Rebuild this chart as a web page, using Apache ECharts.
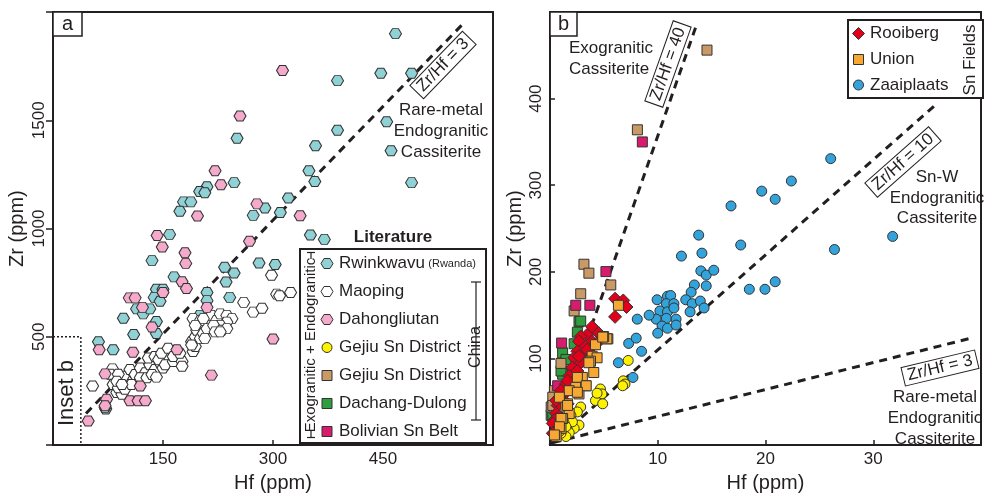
<!DOCTYPE html>
<html>
<head>
<meta charset="utf-8">
<script src="https://cdn.jsdelivr.net/npm/echarts@6/dist/echarts.min.js"></script>
<style>
  html, body { margin: 0; padding: 0; background: #fff; }
  #chart { width: 984px; height: 498px; }
</style>
</head>
<body>
<div id="chart"></div>
<script>
// ---- data: [Hf, Zr] in ppm ----
// panel a (literature, full range)
const rwinkwavu = [[467,1900],[447,1717],[489,1717],[388,1683],[455,1493],[388,1454],[461,1359],[358,1382],[251,1417],[349,1267],[357,1217],[489,1212],[247,1212],[210,1193],[200,1171],[207,1165],[178,1123],[188,1123],[173,1080],[321,1141],[289,1095],[273,1061],[310,1074],[159,973],[135,852],[351,970],[370,950],[281,841],[303,834],[234,821],[247,795],[236,753],[165,777],[241,682],[210,705],[210,667],[200,599],[141,720],[150,720],[138,682],[146,664],[114,629],[123,606],[132,629],[96,586],[141,571],[141,515],[110,511],[62,477],[82,440],[72,167]];
const maoping = [[54,273],[81,352],[82,280],[87,243],[94,235],[89,265],[91,295],[98,258],[101,295],[107,280],[96,318],[105,349],[112,326],[119,356],[126,334],[132,371],[139,349],[146,379],[150,356],[119,311],[128,311],[135,326],[141,314],[130,402],[139,409],[144,394],[153,371],[164,386],[148,424],[157,447],[164,409],[176,386],[176,364],[173,424],[191,432],[194,455],[189,477],[194,500],[196,530],[201,493],[205,515],[210,538],[207,493],[191,584],[201,576],[210,584],[216,599],[223,576],[228,606],[237,599],[244,584],[237,568],[228,553],[219,553],[194,553],[221,523],[230,530],[237,538],[260,659],[273,614],[285,632],[305,697],[298,784],[309,690],[324,705],[71,175],[189,462],[205,584],[228,523],[78,327],[89,327],[87,295],[94,280]];
const dahongliutan = [[313,1730],[255,1520],[221,1267],[229,1202],[278,1114],[337,1059],[197,1058],[142,968],[149,915],[180,888],[181,839],[268,941],[176,754],[182,723],[300,490],[150,705],[104,680],[112,680],[122,636],[210,636],[135,545],[63,440],[109,429],[169,440],[71,329],[119,273],[105,205],[116,205],[126,205],[73,212],[71,182],[48,111],[216,323]];

// panel b (inset)
const gejiuCircle = [[7.26,97.7],[6.8,74.2],[6.96,70.5],[6.74,68.5],[4.68,64.8],[4.82,59.1],[4.22,51.5],[4.89,47.7],[4.37,59.9],[2.85,44],[2.54,38.3],[1.94,34.4],[2.69,23.1],[2.24,19.3],[1.63,17.4],[2.08,26.9],[1.32,25],[1.78,14.4],[1.48,9.9],[1.02,13.6],[0.87,15.6],[1.48,21.2]];
const gejiuSquare = [[14.57,456],[8.11,364],[3.15,208.8],[3.61,198.5],[5.64,184.9],[2.85,174.7],[2.24,154.9],[5.37,122.7],[1.02,94.3],[0.41,62.8],[0.26,55.3],[0.11,44],[0.26,45.8]];
const dachang = [[2.69,142.4],[2.54,130.3],[2.24,117],[1.17,106.5],[1.32,85.6],[1.17,81.8],[0.11,34.4],[2.85,143.2],[1.48,98.9],[1.02,85.6],[0.26,32.6]];
const bolivian = [[8.57,350],[5.19,200.3],[2.39,161.4],[3.7,161.4],[1.08,117.8],[0.71,68.5]];
const rooiberg = [[3.91,136.7],[4.52,129.2],[3.45,127.3],[2.85,125.3],[2.69,119.7],[3.91,119.7],[3.31,114],[2.54,108.3],[3.61,108.3],[3.0,100.8],[2.24,100.8],[2.85,95.1],[2.08,89.4],[2.54,85.6],[1.78,79.9],[2.39,76.1],[1.48,70.5],[1.94,66.7],[1.32,59.1],[0.87,55.3],[1.17,49.7],[1.63,47.7],[0.71,45.8],[0.57,36.4],[0.87,32.6],[0.41,28.8],[0.26,25],[0.71,19.3],[6.04,169],[6.8,167],[7.1,159.4],[6.04,148.1],[4.52,119.7],[3.45,110.2],[2.69,102.6],[1.63,74.2],[1.02,62.8],[0.57,51.5],[0.26,13.6]];
const union = [[5.28,122.7],[4.98,125.3],[4.22,115.9],[3.91,102.6],[4.37,100.8],[3.76,96.9],[3.61,95.1],[4.06,83.8],[3.0,78.1],[3.31,68.5],[2.54,78.1],[2.39,66.7],[1.78,62.8],[2.69,59.1],[1.63,47.7],[1.48,44],[1.78,36.4],[1.17,30.7],[1.02,19.3],[0.57,9.9],[6.35,161.4],[0.87,55.3],[4.89,124.7],[3.36,68.5],[2.54,61],[1.63,45.8],[1.02,30.7],[0.87,21.2],[0.41,11.7]];
const zaaiplaats = [[26.05,330.7],[22.4,304.9],[19.65,293.2],[20.9,283.8],[16.8,276.1],[13.8,242.4],[17.7,231],[12.2,218.2],[14.1,221.6],[26.4,225.8],[31.8,240.9],[14.0,201.1],[14.5,196.3],[15.2,201.9],[13.4,184.9],[14.5,183.8],[13.1,176.5],[18.5,179.9],[19.95,179.9],[20.9,188.6],[12.6,167.8],[13.2,163.3],[13.95,166.3],[14.3,158.3],[13.0,153.8],[9.94,167.8],[10.9,171.9],[11.2,172.7],[10.8,163.3],[11.5,163.3],[10.2,154.9],[10.9,153.8],[11.5,158.3],[9.85,145.4],[10.8,146.3],[11.7,145.4],[10.4,137.5],[10.9,134.9],[11.7,138.6],[10.0,129.2],[9.2,150],[8.1,145.4],[7.3,117.4],[8.0,123.5],[8.5,108.3],[6.35,95.1],[7.7,78.1]];

// reference lines (end points as drawn)
const lineA_3 = [[45,146],[559.5,1947]];
const insetBox = [[0,500],[38,500],[38,0]];
const lineB_40 = [[0,0],[13.65,487]];
const lineB_10 = [[0,0],[35.7,392]];
const lineB_3 = [[0.3,3],[39.1,123.5]];

// tick labels
const xTicksA = [150, 300, 450];
const yTicksA = [500, 1000, 1500];
const xTicksB = [10, 20, 30];
const yTicksB = [100, 200, 300, 400];

// ---- styling ----
const INK = '#231f20';
const FONT = '"Liberation Sans", Arial, sans-serif';
const HEX = 'path://M0,5 L3,0 L9,0 L12,5 L9,10 L3,10 Z';
const col = {
  rwinkwavu: '#8fd1d5', maoping: '#ffffff', dahong: '#f5aacb',
  gejiuC: '#fff200', gejiuS: '#c99a66', dachang: '#2f9e3c', bolivian: '#d81b6d',
  rooiberg: '#e3001b', union: '#f7a833', zaai: '#33a3dc'
};

function xAxisCfg(grid, min, max, interval, ticks) {
  return {
    gridIndex: grid, type: 'value', min: min, max: max, interval: interval,
    name: 'Hf (ppm)', nameLocation: 'middle', nameGap: 27,
    nameTextStyle: { fontSize: 20, color: INK, fontFamily: FONT },
    axisLine: { show: true, lineStyle: { color: INK, width: 2 } },
    axisTick: { show: true, inside: true, length: 5, lineStyle: { color: INK, width: 1.5 } },
    axisLabel: { fontSize: 17, color: INK, fontFamily: FONT, margin: 6,
      formatter: v => ticks.includes(v) ? String(v) : '' },
    splitLine: { show: false }
  };
}
function yAxisCfg(grid, min, max, interval, ticks, inside, gap, margin) {
  return {
    gridIndex: grid, type: 'value', min: min, max: max, interval: interval,
    name: 'Zr (ppm)', nameLocation: 'middle', nameGap: gap, nameRotate: 90,
    nameTextStyle: { fontSize: 20, color: INK, fontFamily: FONT },
    axisLine: { show: true, lineStyle: { color: INK, width: 2 } },
    axisTick: { show: true, inside: inside, length: inside ? 5 : 7, lineStyle: { color: INK, width: 1.5 } },
    axisLabel: { fontSize: 17, color: INK, fontFamily: FONT, margin: margin, rotate: 90,
      formatter: v => ticks.includes(v) ? String(v) : '' },
    splitLine: { show: false }
  };
}
function refLine(ax, data, dotted) {
  return {
    type: 'line', xAxisIndex: ax, yAxisIndex: ax, data: data, symbol: 'none', silent: true, z: 1,
    lineStyle: dotted ? { color: INK, width: 1.5, type: [2, 2] } : { color: INK, width: 3, type: [8, 6] }
  };
}
function pts(ax, name, data, symbol, size, color) {
  return {
    type: 'scatter', name: name, xAxisIndex: ax, yAxisIndex: ax, data: data,
    symbol: symbol, symbolSize: size, z: 2,
    itemStyle: { color: color, borderColor: '#333', borderWidth: 1, opacity: 1 }
  };
}

// ---- graphic helpers (legends and notes) ----
function txt(x, y, text, size, opt) {
  return Object.assign({
    type: 'text', x: x, y: y, z: 100,
    style: Object.assign({ text: text, fontSize: size, fontFamily: FONT, fill: INK,
      align: 'center', verticalAlign: 'middle' }, (opt && opt.style) || {})
  }, opt && opt.rotation !== undefined ? { rotation: opt.rotation } : {});
}
function rot(deg) { return deg * Math.PI / 180; }
function boxed(x, y, text, deg) {
  return txt(x, y, text, 17, { rotation: rot(deg),
    style: { backgroundColor: '#fff', borderColor: INK, borderWidth: 1, padding: [1, 4, 0, 4] } });
}
function marker(kind, cx, cy, color) {
  const st = { fill: color, stroke: '#333', lineWidth: 1 };
  if (kind === 'hex') {
    const w = 12, h = 10;
    return { type: 'polygon', z: 100, shape: { points: [[cx - w/2, cy], [cx - w/4, cy - h/2], [cx + w/4, cy - h/2], [cx + w/2, cy], [cx + w/4, cy + h/2], [cx - w/4, cy + h/2]] }, style: st };
  }
  if (kind === 'circle') return { type: 'circle', z: 100, shape: { cx: cx, cy: cy, r: 5 }, style: st };
  if (kind === 'diamond') return { type: 'polygon', z: 100, shape: { points: [[cx - 6, cy], [cx, cy - 6], [cx + 6, cy], [cx, cy + 6]] }, style: st };
  return { type: 'rect', z: 100, shape: { x: cx - 5, y: cy - 5, width: 10, height: 10 }, style: st };
}
function line(x1, y1, x2, y2, w) {
  return { type: 'line', z: 101, shape: { x1: x1, y1: y1, x2: x2, y2: y2 }, style: { stroke: INK, lineWidth: w || 1.2 } };
}
function leftText(x, y, text, size) {
  return txt(x, y, text, size, { style: { align: 'left' } });
}

const graphics = [];
// panel tags
graphics.push({ type: 'rect', z: 100, shape: { x: 53, y: 12, width: 29, height: 24 }, style: { fill: '#fff', stroke: INK, lineWidth: 1.5 } });
graphics.push(txt(67.5, 24, 'a', 20));
graphics.push({ type: 'rect', z: 100, shape: { x: 550, y: 12, width: 27, height: 24 }, style: { fill: '#fff', stroke: INK, lineWidth: 1.5 } });
graphics.push(txt(563.5, 24, 'b', 20));

// panel a notes
graphics.push(boxed(443, 65, 'Zr/Hf = 3', 46));
graphics.push(txt(441, 110, 'Rare-metal', 17));
graphics.push(txt(441, 131, 'Endogranitic', 17));
graphics.push(txt(441, 152, 'Cassiterite', 17));
graphics.push(txt(67, 393, 'Inset b', 22, { rotation: rot(90) }));

// panel a legend
graphics.push(txt(393, 237, 'Literature', 17, { style: { fontWeight: 'bold' } }));
graphics.push({ type: 'rect', z: 99, shape: { x: 300, y: 249, width: 186, height: 194 }, style: { fill: '#fff', stroke: INK, lineWidth: 2 } });
const legA = [
  ['hex', col.rwinkwavu, 'Rwinkwavu'], ['hex', col.maoping, 'Maoping'], ['hex', col.dahong, 'Dahongliutan'],
  ['circle', col.gejiuC, 'Gejiu Sn District'], ['rect', col.gejiuS, 'Gejiu Sn District'],
  ['rect', col.dachang, 'Dachang-Dulong'], ['rect', col.bolivian, 'Bolivian Sn Belt']
];
const legAY = [263.5, 291.5, 319.5, 347.5, 375.5, 403.5, 431.5];
legA.forEach((r, i) => {
  graphics.push(marker(r[0], 327, legAY[i], r[1]));
  if (i === 0) {
    graphics.push({ type: 'text', x: 339, y: legAY[i], z: 100, style: {
      text: '{a|Rwinkwavu} {b|(Rwanda)}', fontFamily: FONT, fill: INK, align: 'left', verticalAlign: 'middle',
      rich: { a: { fontSize: 17, fontFamily: FONT, fill: INK }, b: { fontSize: 11, fontFamily: FONT, fill: INK } } } });
  } else {
    graphics.push(leftText(339, legAY[i], r[2], 17));
  }
});
graphics.push(txt(311, 345, 'Exogranitic + Endogranitic', 15, { rotation: rot(90), style: { backgroundColor: '#fff' } }));
graphics.push(line(311, 437, 311, 431));
graphics.push(line(307, 437.5, 315, 437.5));
graphics.push(line(311, 253, 311, 259));
graphics.push(line(307, 252.5, 315, 252.5));
graphics.push(line(476, 282, 476, 420));
graphics.push(line(471, 282, 481, 282));
graphics.push(line(471, 420, 481, 420));
graphics.push(txt(476, 347, 'China', 16, { rotation: rot(90), style: { backgroundColor: '#fff', padding: [0, 3] } }));

// panel b notes
graphics.push(leftText(569, 48, 'Exogranitic', 17));
graphics.push(leftText(569, 69, 'Cassiterite', 17));
graphics.push(boxed(668, 64, 'Zr/Hf = 40', 70.5));
graphics.push(boxed(903, 162, 'Zr/Hf = 10', 41.5));
graphics.push(txt(937, 177, 'Sn-W', 17));
graphics.push(txt(937, 198, 'Endogranitic', 17));
graphics.push(txt(937, 218, 'Cassiterite', 17));
graphics.push(boxed(940, 368, 'Zr/Hf = 3', 13.4));
graphics.push(txt(935, 397, 'Rare-metal', 17));
graphics.push(txt(935, 418, 'Endogranitic', 17));
graphics.push(txt(935, 439, 'Cassiterite', 17));

// panel b legend
graphics.push({ type: 'rect', z: 99, shape: { x: 848, y: 20, width: 135, height: 78 }, style: { fill: '#fff', stroke: INK, lineWidth: 2 } });
const legB = [['diamond', col.rooiberg, 'Rooiberg'], ['rect', col.union, 'Union'], ['circle', col.zaai, 'Zaaiplaats']];
const legBY = [33.5, 59.5, 85];
legB.forEach((r, i) => {
  graphics.push(marker(r[0], 858.5, legBY[i], r[1]));
  graphics.push(leftText(870, legBY[i], r[2], 17));
});
graphics.push(txt(970, 60, 'Sn Fields', 17, { rotation: rot(90) }));

const chart = echarts.init(document.getElementById('chart'), null, { renderer: 'canvas' });
chart.setOption({
  animation: false,
  backgroundColor: '#fff',
  grid: [
    { left: 53, top: 12, width: 440, height: 440, show: true, borderColor: INK, borderWidth: 2 },
    { left: 550, top: 12, width: 438, height: 440, show: true, borderColor: INK, borderWidth: 2 }
  ],
  xAxis: [xAxisCfg(0, 0, 600, 150, xTicksA), xAxisCfg(1, 0, 40, 10, xTicksB)],
  yAxis: [yAxisCfg(0, 0, 2000, 500, yTicksA, false, 26, 5), yAxisCfg(1, 0, 500, 100, yTicksB, true, 25, 5)],
  series: [
    refLine(0, lineA_3), refLine(0, insetBox, true),
    refLine(1, lineB_40), refLine(1, lineB_10), refLine(1, lineB_3),
    pts(0, 'Rwinkwavu', rwinkwavu, HEX, [12, 10], col.rwinkwavu),
    pts(0, 'Maoping', maoping, HEX, [12, 10], col.maoping),
    pts(0, 'Dahongliutan', dahongliutan, HEX, [12, 10], col.dahong),
    pts(1, 'Zaaiplaats', zaaiplaats, 'circle', 10, col.zaai),
    pts(1, 'Gejiu Sn District (circle)', gejiuCircle, 'circle', 10, col.gejiuC),
    pts(1, 'Dachang-Dulong', dachang, 'rect', 10, col.dachang),
    pts(1, 'Gejiu Sn District (square)', gejiuSquare, 'rect', 10, col.gejiuS),
    pts(1, 'Bolivian Sn Belt', bolivian, 'rect', 10, col.bolivian),
    pts(1, 'Rooiberg', rooiberg, 'diamond', 13, col.rooiberg),
    pts(1, 'Union', union, 'rect', 10, col.union)
  ],
  graphic: graphics
});
</script>
</body>
</html>
